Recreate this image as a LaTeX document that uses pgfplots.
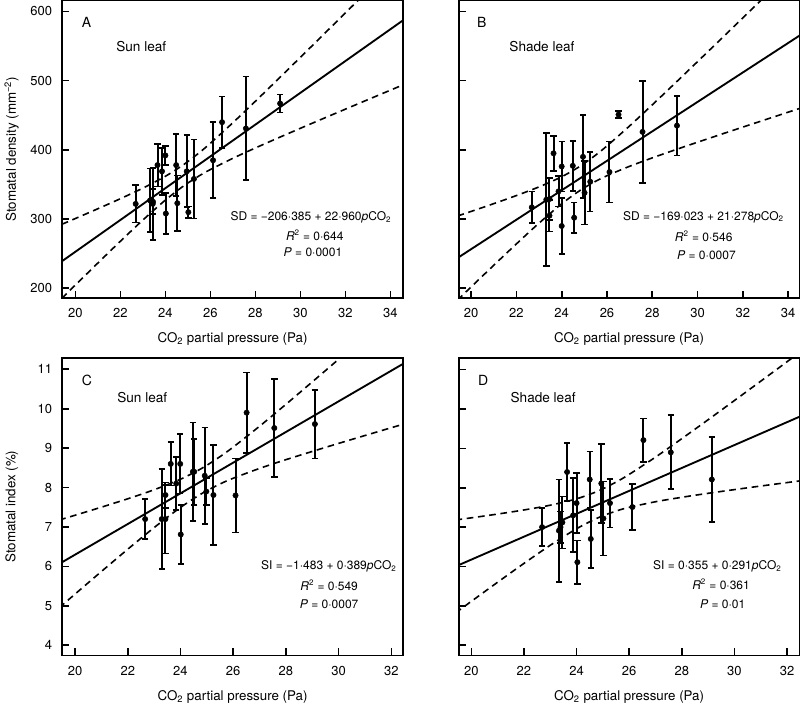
\documentclass[border=0pt]{standalone}
\usepackage{fontspec}
\setmainfont{TeX Gyre Heros}
\usepackage{pgfplots}
\pgfplotsset{compat=1.18}
\pgfplotsset{
  panel/.style={
    scale only axis, width=255.6pt, height=223.2pt,
    axis line style={line width=1.3pt},
    every tick/.style={black, line width=1.2pt},
    major tick length=5.5pt, tick align=inside, tick pos=left,
    /pgf/number format/assume math mode=true,
    ticklabel style={font=\fontsize{9.75}{11}\selectfont},
    xticklabel style={yshift=-4.3pt},
    yticklabel style={xshift=-4pt},
    label style={font=\fontsize{10.2}{12}\selectfont},
    every axis x label/.style={at={(axis description cs:0.5,-0.138)}, anchor=center},
    every axis y label/.style={at={(axis description cs:-0.148,0.5)}, anchor=center, rotate=90},
    clip=true,
  },
  pts/.style={only marks, mark=*, mark size=2.0pt, black,
    error bars/.cd, y dir=both, y explicit,
    error bar style={line width=1.5pt, black},
    error mark options={rotate=90, mark size=2.4pt, line width=1.3pt, black}},
  reg/.style={black, line width=1.4pt},
  band/.style={black, line width=1.2pt, dash pattern=on 5pt off 3.5pt, smooth},
}
\newcommand{\lab}{\fontsize{10.5}{12}\selectfont}
\newcommand{\txt}{\fontsize{10.2}{12}\selectfont}
\newcommand{\eqf}{\fontsize{9}{11}\selectfont}
\begin{document}
\begin{tikzpicture}
\useasboundingbox (0,0) rectangle (600pt,534pt);
% ---------------- A ----------------
\begin{axis}[panel, at={(46.6pt,310.5pt)}, anchor=south west,
  xmin=19.41, xmax=34.56, ymin=186, ymax=616,
  xtick={20,22,...,34}, ytick={200,300,...,600},
  xlabel={CO\textsubscript{2} partial pressure (Pa)},
  ylabel={Stomatal density (mm\textsuperscript{−2})}]
\addplot[band] coordinates {(19.4,292.48) (20,300.85) (21,314.99) (22,329.49) (23,344.76) (24,361.87) (24.82,378.86) (25.5,395.75) (26,409.57) (27,439.23) (28,470.23) (29,501.81) (30,533.69) (31,565.71) (32,597.84) (33,630.04) (34,662.27) (34.6,681.64)};
\addplot[band] coordinates {(19.4,185.60) (20,204.79) (21,236.57) (22,267.99) (23,298.64) (24,327.45) (24.82,348.12) (25.5,362.43) (26,371.59) (27,387.85) (28,402.75) (29,417.09) (30,431.15) (31,445.03) (32,458.82) (33,472.54) (34,486.23) (34.6,494.42)};
\addplot[reg] coordinates {(19.41,239.27) (34.56,587.11)};
\addplot[pts] coordinates {
(22.68,322) +- (0,27)
(23.32,327) +- (0,46)
(23.44,322) +- (0,52)
(23.45,325) +- (0,18)
(23.65,378) +- (0,31)
(23.85,369) +- (0,34)
(24.00,392) +- (0,14)
(24.02,308) +- (0,30)
(24.48,378) +- (0,45)
(24.53,323) +- (0,40)
(24.95,369) +- (0,52)
(25.02,310) +- (0,8)
(25.27,358) +- (0,57)
(26.12,385) +- (0,55)
(26.52,440) +- (0,37)
(27.58,431) +- (0,75)
(29.10,467) +- (0,13)};
\node[font=\lab] at (axis cs:20.49,583.7) {A};
\node[font=\txt] at (axis cs:22.93,549.4) {Sun leaf};
\node[font=\eqf] at (axis cs:30.47,302.6) {SD = −206·385 + 22·960\textit{p}CO\textsubscript{2}};
\node[font=\eqf] at (axis cs:30.64,276.2) {\textit{R}\textsuperscript{2} = 0·644};
\node[font=\eqf] at (axis cs:30.56,252.6) {\textit{P} = 0·0001};
\end{axis}
% ---------------- B ----------------
\begin{axis}[panel, at={(344.0pt,310.5pt)}, anchor=south west,
  xmin=19.45, xmax=34.5, ymin=186, ymax=616,
  xtick={20,22,...,34}, ytick={200,300,...,600}, yticklabels={},
  xlabel={CO\textsubscript{2} partial pressure (Pa)}]
\addplot[band] coordinates {(19.4,304.46) (20,311.09) (21,322.33) (22,334.01) (23,346.56) (24,361.20) (24.82,376.56) (25.5,392.49) (26,405.77) (27,434.65) (28,465.07) (29,496.14) (30,527.54) (31,559.12) (32,590.81) (33,622.58) (34,654.39) (34.6,673.51)};
\addplot[band] coordinates {(19.4,183.08) (20,201.99) (21,233.29) (22,264.17) (23,294.18) (24,322.10) (24.82,341.64) (25.5,354.65) (26,362.65) (27,376.31) (28,388.45) (29,399.94) (30,411.10) (31,422.08) (32,432.93) (33,443.72) (34,454.47) (34.6,460.89)};
\addplot[reg] coordinates {(19.41,243.99) (34.56,566.35)};
\addplot[pts] coordinates {
(22.68,317) +- (0,23)
(23.32,328) +- (0,96)
(23.46,329) +- (0,30)
(23.46,305) +- (0,23)
(23.64,395) +- (0,25)
(23.86,340) +- (0,22)
(24.00,376) +- (0,36)
(24.00,290) +- (0,40)
(24.49,377) +- (0,36)
(24.55,302) +- (0,22)
(24.94,390) +- (0,60)
(25.01,338) +- (0,46)
(25.26,354) +- (0,43)
(26.11,368) +- (0,44)
(26.51,451) +- (0,5)
(27.57,426) +- (0,74)
(29.09,435) +- (0,43)};
\node[font=\lab] at (axis cs:20.47,583.7) {B};
\node[font=\txt] at (axis cs:23.13,549.4) {Shade leaf};
\node[font=\eqf] at (axis cs:30.26,303.2) {SD = −169·023 + 21·278\textit{p}CO\textsubscript{2}};
\node[font=\eqf] at (axis cs:30.27,275.1) {\textit{R}\textsuperscript{2} = 0·546};
\node[font=\eqf] at (axis cs:30.39,248.3) {\textit{P} = 0·0007};
\end{axis}
% ---------------- C ----------------
\begin{axis}[panel, at={(46.6pt,42.4pt)}, anchor=south west,
  xmin=19.51, xmax=32.44, ymin=3.74, ymax=11.29,
  xtick={20,22,...,32}, ytick={4,5,...,11},
  xlabel={CO\textsubscript{2} partial pressure (Pa)},
  ylabel={Stomatal index (\%)}]
\addplot[band] coordinates {(19.4,7.176) (20,7.297) (21,7.502) (22,7.715) (23,7.944) (24,8.211) (24.82,8.492) (25.5,8.784) (26,9.026) (27,9.555) (28,10.111) (29,10.680) (30,11.254) (31,11.832) (32,12.412) (32.5,12.703)};
\addplot[band] coordinates {(19.4,4.951) (20,5.297) (21,5.870) (22,6.435) (23,6.984) (24,7.495) (24.82,7.852) (25.5,8.090) (26,8.236) (27,8.485) (28,8.707) (29,8.916) (30,9.120) (31,9.320) (32,9.518) (32.5,9.616)};
\addplot[reg] coordinates {(19.51,6.106) (32.47,11.148)};
\addplot[pts] coordinates {
(22.66,7.20) +- (0,0.51)
(23.29,7.20) +- (0,1.27)
(23.43,7.20) +- (0,0.87)
(23.43,7.81) +- (0,0.32)
(23.63,8.60) +- (0,0.55)
(23.84,8.10) +- (0,0.67)
(23.99,8.60) +- (0,0.75)
(24.01,6.81) +- (0,0.75)
(24.47,8.40) +- (0,1.25)
(24.52,8.40) +- (0,0.84)
(24.92,8.30) +- (0,1.22)
(24.98,7.90) +- (0,0.35)
(25.25,7.81) +- (0,1.27)
(26.09,7.80) +- (0,0.94)
(26.51,9.90) +- (0,1.02)
(27.56,9.51) +- (0,1.24)
(29.10,9.61) +- (0,0.87)};
\node[font=\lab] at (axis cs:20.45,10.71) {C};
\node[font=\txt] at (axis cs:22.55,10.28) {Sun leaf};
\node[font=\eqf] at (axis cs:29.63,6.0) {SI = −1·483 + 0·389\textit{p}CO\textsubscript{2}};
\node[font=\eqf] at (axis cs:29.64,5.52) {\textit{R}\textsuperscript{2} = 0·549};
\node[font=\eqf] at (axis cs:29.64,5.03) {\textit{P} = 0·0007};
\end{axis}
% ---------------- D ----------------
\begin{axis}[panel, at={(344.0pt,42.4pt)}, anchor=south west,
  xmin=19.52, xmax=32.47, ymin=3.74, ymax=11.30,
  xtick={20,22,...,32}, ytick={4,5,...,11}, yticklabels={},
  xlabel={CO\textsubscript{2} partial pressure (Pa)}]
\addplot[band] coordinates {(19.4,7.181) (20,7.236) (21,7.332) (22,7.436) (23,7.557) (24,7.719) (24.82,7.917) (25.5,8.144) (26,8.340) (27,8.779) (28,9.248) (29,9.729) (30,10.217) (31,10.708) (32,11.202) (32.5,11.449)};
\addplot[band] coordinates {(19.4,4.820) (20,5.114) (21,5.600) (22,6.078) (23,6.539) (24,6.959) (24.82,7.238) (25.5,7.408) (26,7.502) (27,7.645) (28,7.758) (29,7.859) (30,7.953) (31,8.044) (32,8.132) (32.5,8.176)};
\addplot[reg] coordinates {(19.52,6.035) (32.47,9.804)};
\addplot[pts] coordinates {
(22.69,7.00) +- (0,0.48)
(23.33,6.91) +- (0,1.30)
(23.39,7.00) +- (0,0.40)
(23.46,7.12) +- (0,0.66)
(23.64,8.40) +- (0,0.73)
(23.87,7.30) +- (0,0.94)
(24.00,7.61) +- (0,0.76)
(24.03,6.11) +- (0,0.55)
(24.50,8.21) +- (0,0.71)
(24.54,6.70) +- (0,0.74)
(24.94,8.11) +- (0,1.01)
(25.02,7.22) +- (0,0.94)
(25.27,7.61) +- (0,0.62)
(26.12,7.51) +- (0,0.58)
(26.54,9.21) +- (0,0.55)
(27.58,8.90) +- (0,0.94)
(29.14,8.21) +- (0,1.08)};
\node[font=\lab] at (axis cs:20.45,10.73) {D};
\node[font=\txt] at (axis cs:22.73,10.28) {Shade leaf};
\node[font=\eqf] at (axis cs:29.35,6.0) {SI = 0·355 + 0·291\textit{p}CO\textsubscript{2}};
\node[font=\eqf] at (axis cs:29.49,5.54) {\textit{R}\textsuperscript{2} = 0·361};
\node[font=\eqf] at (axis cs:29.55,5.03) {\textit{P} = 0·01};
\end{axis}
\end{tikzpicture}
\end{document}
